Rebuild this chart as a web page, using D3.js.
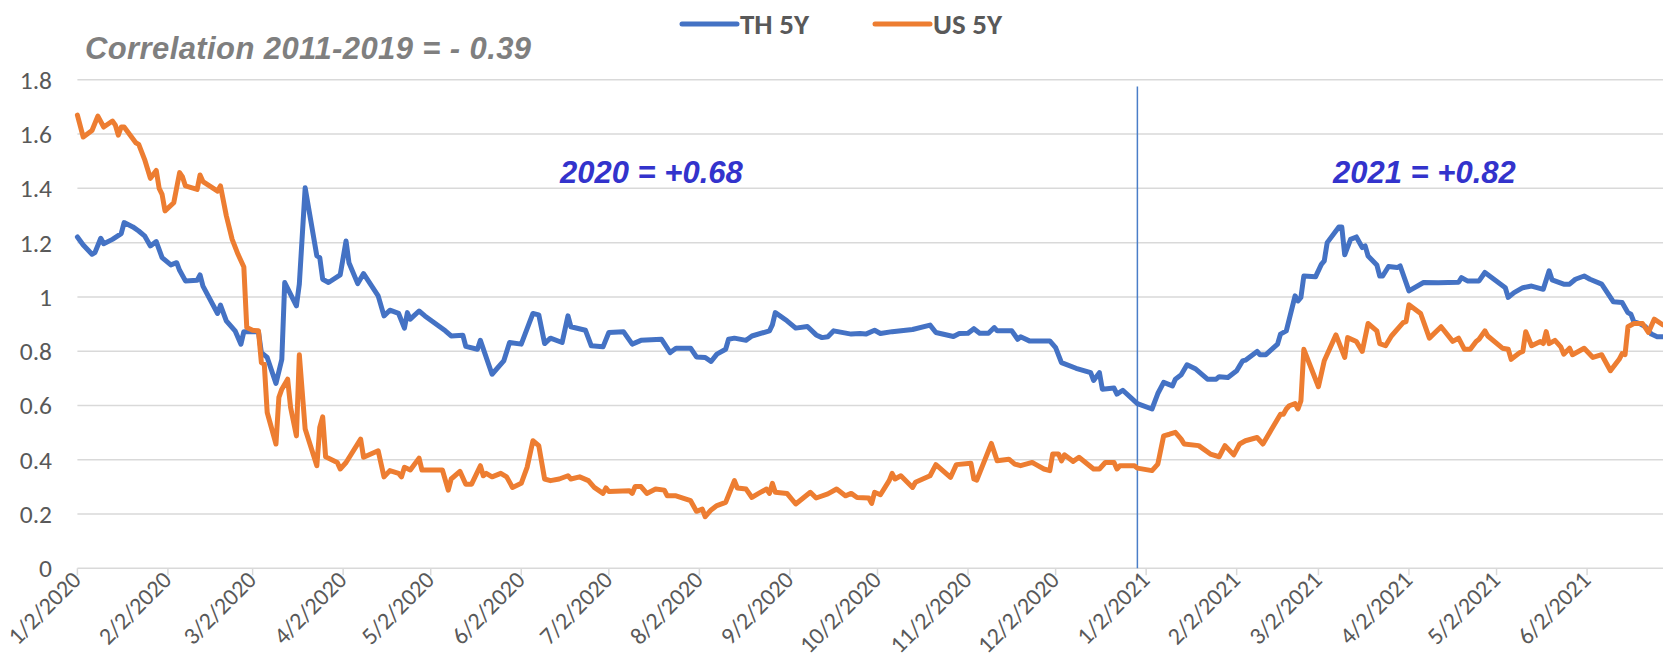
<!DOCTYPE html>
<html>
<head>
<meta charset="utf-8">
<script src="https://cdn.jsdelivr.net/npm/d3@7"></script>
<style>
  body { margin: 0; background: #fff; }
  svg { display: block; }
  .tick-label { font-family: Calibri, Carlito, Lato, sans-serif; font-size: 25.5px; fill: #595959; }
  .x-label { font-size: 24px; }
  .legend-text { font-family: Calibri, Carlito, Lato, sans-serif; font-size: 29px; font-weight: bold; fill: #595959; }
  .note { font-family: Arial, "Liberation Sans", sans-serif; font-weight: bold; font-style: italic; }
</style>
</head>
<body>
<div id="vis"></div>
<script>
/* Data: [date, yield %] */
var thSeries = [
  ["2020-01-02",1.221],["2020-01-04",1.191],["2020-01-07",1.157],["2020-01-08",1.163],["2020-01-10",1.216],
  ["2020-01-11",1.196],["2020-01-14",1.212],["2020-01-17",1.233],["2020-01-18",1.274],["2020-01-21",1.258],
  ["2020-01-23",1.243],["2020-01-25",1.225],["2020-01-27",1.188],["2020-01-29",1.204],["2020-01-31",1.145],
  ["2020-02-03",1.118],["2020-02-05",1.126],["2020-02-06",1.098],["2020-02-08",1.059],["2020-02-12",1.061],
  ["2020-02-13",1.081],["2020-02-14",1.040],["2020-02-19",0.939],["2020-02-20",0.970],["2020-02-22",0.912],
  ["2020-02-25",0.875],["2020-02-27",0.826],["2020-02-28",0.872],["2020-03-04",0.872],["2020-03-05",0.795],
  ["2020-03-07",0.777],["2020-03-10",0.681],["2020-03-12",0.770],["2020-03-13",1.053],["2020-03-17",0.967],
  ["2020-03-18",1.047],["2020-03-20",1.402],["2020-03-24",1.151],["2020-03-25",1.145],["2020-03-26",1.065],
  ["2020-03-28",1.053],["2020-04-01",1.081],["2020-04-03",1.206],["2020-04-04",1.126],["2020-04-07",1.049],
  ["2020-04-09",1.086],["2020-04-14",1.004],["2020-04-16",0.930],["2020-04-18",0.951],["2020-04-21",0.939],
  ["2020-04-23",0.885],["2020-04-24",0.942],["2020-04-25",0.918],["2020-04-28",0.948],["2020-04-30",0.930],
  ["2020-05-07",0.875],["2020-05-09",0.856],["2020-05-13",0.859],["2020-05-14",0.818],["2020-05-18",0.807],
  ["2020-05-19",0.840],["2020-05-23",0.715],["2020-05-27",0.764],["2020-05-29",0.832],["2020-06-02",0.826],
  ["2020-06-06",0.939],["2020-06-08",0.934],["2020-06-10",0.828],["2020-06-12",0.848],["2020-06-16",0.832],
  ["2020-06-18",0.930],["2020-06-19",0.890],["2020-06-24",0.877],["2020-06-26",0.820],["2020-06-30",0.816],
  ["2020-07-02",0.869],["2020-07-07",0.872],["2020-07-10",0.826],["2020-07-13",0.840],["2020-07-20",0.844],
  ["2020-07-23",0.795],["2020-07-25",0.811],["2020-07-30",0.811],["2020-08-01",0.779],["2020-08-04",0.777],
  ["2020-08-06",0.762],["2020-08-08",0.789],["2020-08-11",0.807],["2020-08-12",0.844],["2020-08-14",0.848],
  ["2020-08-18",0.840],["2020-08-20",0.856],["2020-08-26",0.875],["2020-08-27",0.897],["2020-08-28",0.942],
  ["2020-09-01",0.912],["2020-09-04",0.885],["2020-09-08",0.891],["2020-09-11",0.860],["2020-09-13",0.850],
  ["2020-09-15",0.853],["2020-09-17",0.875],["2020-09-23",0.863],["2020-09-26",0.865],["2020-09-28",0.863],
  ["2020-10-01",0.877],["2020-10-03",0.865],["2020-10-07",0.872],["2020-10-14",0.880],["2020-10-20",0.896],
  ["2020-10-22",0.869],["2020-10-28",0.854],["2020-10-30",0.865],["2020-11-02",0.866],["2020-11-04",0.883],
  ["2020-11-06",0.866],["2020-11-09",0.866],["2020-11-11",0.887],["2020-11-12",0.875],["2020-11-17",0.875],
  ["2020-11-19",0.844],["2020-11-20",0.853],["2020-11-23",0.838],["2020-11-30",0.838],["2020-12-02",0.813],
  ["2020-12-04",0.758],["2020-12-09",0.737],["2020-12-14",0.721],["2020-12-15",0.692],["2020-12-17",0.721],
  ["2020-12-18",0.660],["2020-12-22",0.664],["2020-12-23",0.642],["2020-12-25",0.656],["2020-12-30",0.607],
  ["2021-01-04",0.587],["2021-01-06",0.644],["2021-01-08",0.685],["2021-01-11",0.672],["2021-01-12",0.697],
  ["2021-01-14",0.713],["2021-01-16",0.750],["2021-01-19",0.734],["2021-01-23",0.697],["2021-01-26",0.697],
  ["2021-01-27",0.706],["2021-01-30",0.703],["2021-02-02",0.728],["2021-02-03",0.746],["2021-02-04",0.764],
  ["2021-02-05",0.767],["2021-02-09",0.799],["2021-02-10",0.787],["2021-02-12",0.787],["2021-02-16",0.826],
  ["2021-02-17",0.863],["2021-02-19",0.875],["2021-02-22",1.004],["2021-02-23",0.985],["2021-02-24",0.998],
  ["2021-02-25",1.077],["2021-03-01",1.074],["2021-03-03",1.120],["2021-03-04",1.133],["2021-03-05",1.200],
  ["2021-03-09",1.258],["2021-03-10",1.258],["2021-03-11",1.155],["2021-03-13",1.212],["2021-03-15",1.221],
  ["2021-03-17",1.182],["2021-03-18",1.188],["2021-03-19",1.151],["2021-03-22",1.118],["2021-03-23",1.077],
  ["2021-03-24",1.077],["2021-03-26",1.112],["2021-03-29",1.108],["2021-03-30",1.114],["2021-04-02",1.022],
  ["2021-04-07",1.053],["2021-04-12",1.052],["2021-04-19",1.054],["2021-04-20",1.071],["2021-04-22",1.059],
  ["2021-04-26",1.059],["2021-04-28",1.090],["2021-05-05",1.034],["2021-05-06",0.998],["2021-05-08",1.016],
  ["2021-05-11",1.034],["2021-05-14",1.040],["2021-05-18",1.028],["2021-05-20",1.096],["2021-05-21",1.063],
  ["2021-05-25",1.047],["2021-05-27",1.047],["2021-05-29",1.065],["2021-06-01",1.077],["2021-06-03",1.065],
  ["2021-06-07",1.047],["2021-06-10",0.998],["2021-06-11",0.982],["2021-06-14",0.979],["2021-06-16",0.942],
  ["2021-06-17",0.936],["2021-06-18",0.909],["2021-06-20",0.902],["2021-06-22",0.890],["2021-06-24",0.863],
  ["2021-06-26",0.853],["2021-06-28",0.853]
];

var usSeries = [
  ["2020-01-02",1.670],["2020-01-04",1.589],["2020-01-07",1.613],["2020-01-09",1.666],["2020-01-11",1.626],
  ["2020-01-14",1.648],["2020-01-15",1.633],["2020-01-16",1.596],["2020-01-17",1.626],["2020-01-18",1.626],
  ["2020-01-22",1.568],["2020-01-23",1.562],["2020-01-25",1.507],["2020-01-27",1.437],["2020-01-29",1.466],
  ["2020-01-30",1.400],["2020-01-31",1.378],["2020-02-01",1.317],["2020-02-04",1.347],["2020-02-06",1.458],
  ["2020-02-07",1.442],["2020-02-08",1.409],["2020-02-12",1.396],["2020-02-13",1.449],["2020-02-14",1.425],
  ["2020-02-19",1.390],["2020-02-20",1.409],["2020-02-22",1.299],["2020-02-24",1.212],["2020-02-26",1.157],
  ["2020-02-28",1.110],["2020-02-29",0.887],["2020-03-02",0.877],["2020-03-04",0.875],["2020-03-05",0.758],
  ["2020-03-06",0.752],["2020-03-07",0.574],["2020-03-10",0.458],["2020-03-11",0.630],["2020-03-12",0.660],
  ["2020-03-14",0.697],["2020-03-15",0.593],["2020-03-17",0.488],["2020-03-18",0.787],["2020-03-20",0.513],
  ["2020-03-24",0.378],["2020-03-25",0.519],["2020-03-26",0.558],["2020-03-27",0.411],["2020-03-31",0.390],
  ["2020-04-01",0.366],["2020-04-03",0.390],["2020-04-08",0.476],["2020-04-09",0.409],["2020-04-14",0.433],
  ["2020-04-16",0.337],["2020-04-18",0.360],["2020-04-21",0.350],["2020-04-22",0.337],["2020-04-23",0.372],
  ["2020-04-25",0.362],["2020-04-28",0.406],["2020-04-29",0.362],["2020-05-06",0.362],["2020-05-08",0.288],
  ["2020-05-09",0.329],["2020-05-12",0.357],["2020-05-14",0.310],["2020-05-16",0.310],["2020-05-19",0.378],
  ["2020-05-20",0.341],["2020-05-21",0.350],["2020-05-23",0.337],["2020-05-26",0.350],["2020-05-28",0.337],
  ["2020-05-30",0.298],["2020-06-02",0.313],["2020-06-04",0.372],["2020-06-06",0.470],["2020-06-08",0.452],
  ["2020-06-10",0.329],["2020-06-12",0.323],["2020-06-15",0.329],["2020-06-18",0.341],["2020-06-19",0.329],
  ["2020-06-22",0.337],["2020-06-25",0.323],["2020-06-27",0.298],["2020-06-30",0.276],["2020-07-01",0.296],
  ["2020-07-02",0.283],["2020-07-09",0.286],["2020-07-10",0.276],["2020-07-11",0.301],["2020-07-13",0.301],
  ["2020-07-15",0.276],["2020-07-18",0.292],["2020-07-21",0.288],["2020-07-22",0.267],["2020-07-25",0.267],
  ["2020-07-30",0.249],["2020-08-01",0.210],["2020-08-03",0.218],["2020-08-04",0.190],["2020-08-06",0.215],
  ["2020-08-08",0.231],["2020-08-11",0.243],["2020-08-14",0.323],["2020-08-15",0.296],["2020-08-18",0.292],
  ["2020-08-20",0.261],["2020-08-22",0.274],["2020-08-25",0.292],["2020-08-26",0.276],["2020-08-27",0.313],
  ["2020-08-28",0.280],["2020-09-01",0.276],["2020-09-04",0.237],["2020-09-09",0.280],["2020-09-11",0.259],
  ["2020-09-15",0.274],["2020-09-18",0.292],["2020-09-21",0.267],["2020-09-23",0.276],["2020-09-25",0.261],
  ["2020-09-29",0.259],["2020-09-30",0.239],["2020-10-01",0.280],["2020-10-03",0.271],["2020-10-06",0.323],
  ["2020-10-07",0.350],["2020-10-08",0.329],["2020-10-10",0.341],["2020-10-14",0.298],["2020-10-15",0.317],
  ["2020-10-20",0.341],["2020-10-22",0.382],["2020-10-27",0.335],["2020-10-29",0.382],["2020-11-03",0.387],
  ["2020-11-04",0.329],["2020-11-05",0.325],["2020-11-10",0.460],["2020-11-12",0.396],["2020-11-16",0.402],
  ["2020-11-18",0.384],["2020-11-20",0.378],["2020-11-24",0.390],["2020-11-25",0.384],["2020-11-28",0.366],
  ["2020-11-30",0.360],["2020-12-01",0.421],["2020-12-03",0.421],["2020-12-04",0.396],["2020-12-05",0.418],
  ["2020-12-08",0.394],["2020-12-10",0.409],["2020-12-15",0.366],["2020-12-17",0.366],["2020-12-19",0.390],
  ["2020-12-22",0.390],["2020-12-23",0.366],["2020-12-24",0.378],["2020-12-29",0.378],["2020-12-30",0.369],
  ["2021-01-04",0.360],["2021-01-06",0.384],["2021-01-08",0.488],["2021-01-10",0.494],["2021-01-12",0.501],
  ["2021-01-14",0.476],["2021-01-15",0.458],["2021-01-20",0.452],["2021-01-24",0.421],["2021-01-27",0.411],
  ["2021-01-29",0.452],["2021-02-01",0.418],["2021-02-03",0.458],["2021-02-05",0.470],["2021-02-09",0.482],
  ["2021-02-11",0.458],["2021-02-14",0.513],["2021-02-17",0.568],["2021-02-18",0.568],["2021-02-19",0.587],
  ["2021-02-20",0.599],["2021-02-22",0.607],["2021-02-23",0.587],["2021-02-24",0.617],["2021-02-25",0.807],
  ["2021-03-02",0.669],["2021-03-04",0.765],["2021-03-08",0.860],["2021-03-11",0.777],["2021-03-12",0.850],
  ["2021-03-15",0.836],["2021-03-17",0.799],["2021-03-19",0.902],["2021-03-22",0.875],["2021-03-23",0.828],
  ["2021-03-25",0.820],["2021-03-27",0.856],["2021-03-31",0.905],["2021-04-01",0.909],["2021-04-02",0.971],
  ["2021-04-06",0.939],["2021-04-09",0.848],["2021-04-13",0.890],["2021-04-17",0.836],["2021-04-19",0.848],
  ["2021-04-21",0.807],["2021-04-23",0.807],["2021-04-25",0.836],["2021-04-26",0.844],["2021-04-28",0.875],
  ["2021-04-29",0.856],["2021-05-04",0.811],["2021-05-06",0.807],["2021-05-07",0.770],["2021-05-10",0.795],
  ["2021-05-11",0.799],["2021-05-12",0.872],["2021-05-14",0.820],["2021-05-17",0.836],["2021-05-18",0.828],
  ["2021-05-19",0.872],["2021-05-20",0.828],["2021-05-22",0.840],["2021-05-24",0.816],["2021-05-25",0.789],
  ["2021-05-27",0.811],["2021-05-28",0.787],["2021-06-01",0.811],["2021-06-04",0.777],["2021-06-07",0.787],
  ["2021-06-10",0.728],["2021-06-13",0.770],["2021-06-14",0.791],["2021-06-15",0.787],["2021-06-16",0.890],
  ["2021-06-18",0.902],["2021-06-21",0.902],["2021-06-23",0.869],["2021-06-25",0.918],["2021-06-28",0.897]
];

var seriesNames = ["TH 5Y", "US 5Y"];
var seriesColors = ["#4472C4", "#ED7D31"];
var xDomain = ["2020-01-02", "2021-06-28"];
var xTicks = ["2020-01-02","2020-02-02","2020-03-02","2020-04-02","2020-05-02","2020-06-02",
  "2020-07-02","2020-08-02","2020-09-02","2020-10-02","2020-11-02","2020-12-02",
  "2021-01-02","2021-02-02","2021-03-02","2021-04-02","2021-05-02","2021-06-02"];
var yTicks = [0, 0.2, 0.4, 0.6, 0.8, 1, 1.2, 1.4, 1.6, 1.8];
var yearSplit = "2020-12-30";
var notes = ["Correlation 2011-2019 = - 0.39", "2020 = +0.68", "2021 = +0.82"];

/* Set up */
var width = 1663, height = 671;
var margin = { top: 79.8, right: 0, bottom: 102.7, left: 77.4 };
var parseDate = d3.utcParse("%Y-%m-%d");
var fmt = d3.utcFormat("%-m/%-d/%Y");

var svg = d3.select("#vis").append("svg")
    .attr("width", width)
    .attr("height", height);

var xScale = d3.scaleUtc()
    .domain(xDomain.map(parseDate))
    .range([margin.left, width - margin.right]);

var yScale = d3.scaleLinear()
    .domain([0, 1.8])
    .range([height - margin.bottom, margin.top]);

/* Gridlines */
svg.append("g").attr("class", "grid")
    .selectAll("line")
    .data(yTicks)
    .enter().append("line")
    .attr("x1", margin.left)
    .attr("x2", width - margin.right)
    .attr("y1", function (d) { return yScale(d); })
    .attr("y2", function (d) { return yScale(d); })
    .attr("stroke", "#D9D9D9")
    .attr("stroke-width", 1.5);

/* y labels */
svg.append("g")
    .selectAll("text")
    .data(yTicks)
    .enter().append("text")
    .attr("class", "tick-label")
    .attr("x", 52)
    .attr("y", function (d) { return yScale(d); })
    .attr("dy", "0.35em")
    .attr("text-anchor", "end")
    .text(function (d) { return d; });

/* x axis: ticks + rotated labels */
var xAxisG = svg.append("g").attr("class", "x axis");
xAxisG.selectAll("line")
    .data(xTicks)
    .enter().append("line")
    .attr("x1", function (d) { return xScale(parseDate(d)); })
    .attr("x2", function (d) { return xScale(parseDate(d)); })
    .attr("y1", yScale(0))
    .attr("y2", yScale(0) + 7)
    .attr("stroke", "#D9D9D9")
    .attr("stroke-width", 1.5);

xAxisG.selectAll("text")
    .data(xTicks)
    .enter().append("text")
    .attr("class", "tick-label x-label")
    .attr("text-anchor", "end")
    .attr("transform", function (d) {
        return "translate(" + (xScale(parseDate(d)) + 5) + "," + (yScale(0) + 13) + ") rotate(-45)";
    })
    .text(function (d) { return fmt(parseDate(d)); });

/* year divider */
svg.append("line")
    .attr("x1", xScale(parseDate(yearSplit)))
    .attr("x2", xScale(parseDate(yearSplit)))
    .attr("y1", yScale(1.775))
    .attr("y2", yScale(0))
    .attr("stroke", "#4A7EC8")
    .attr("stroke-width", 1.5);

/* lines */
var line = d3.line()
    .x(function (d) { return xScale(parseDate(d[0])); })
    .y(function (d) { return yScale(d[1]); });

[thSeries, usSeries].forEach(function (s, i) {
    svg.append("path")
        .datum(s)
        .attr("d", line)
        .attr("fill", "none")
        .attr("stroke", seriesColors[i])
        .attr("stroke-width", 5)
        .attr("stroke-linejoin", "round")
        .attr("stroke-linecap", "round");
});

/* legend */
var legendX = [682, 875];
var legend = svg.append("g").attr("class", "legend");
seriesNames.forEach(function (name, i) {
    legend.append("line")
        .attr("x1", legendX[i]).attr("x2", legendX[i] + 55)
        .attr("y1", 24).attr("y2", 24)
        .attr("stroke", seriesColors[i])
        .attr("stroke-width", 5)
        .attr("stroke-linecap", "round");
    legend.append("text")
        .attr("class", "legend-text")
        .attr("x", legendX[i] + 58)
        .attr("y", 34)
        .text(name);
});

/* annotations */
svg.append("text").attr("class", "note")
    .attr("x", 85).attr("y", 59)
    .attr("font-size", 31)
    .attr("letter-spacing", 0.4)
    .attr("fill", "#7F7F7F")
    .text(notes[0]);

svg.append("text").attr("class", "note")
    .attr("x", 560).attr("y", 183)
    .attr("font-size", 31)
    .attr("fill", "#3333CC")
    .text(notes[1]);

svg.append("text").attr("class", "note")
    .attr("x", 1333).attr("y", 183)
    .attr("font-size", 31)
    .attr("fill", "#3333CC")
    .text(notes[2]);
</script>
</body>
</html>
